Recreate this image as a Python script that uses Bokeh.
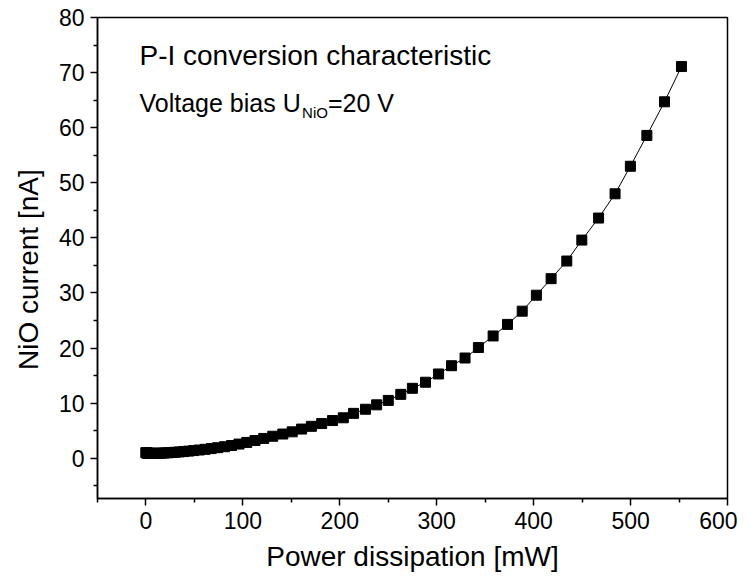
from bokeh.plotting import figure
from bokeh.models import Label, Range1d, FixedTicker
from bokeh.embed import file_html
from bokeh.resources import INLINE

power_mw = [0, 0.1, 0.5, 1.1, 2.0, 3.2, 4.7, 6.4, 8.4, 10.6,
            13.1, 15.9, 19.0, 22.4, 26.1, 30.1, 34.4, 39.0, 44.0, 49.3,
            55.0, 61.0, 67.3, 74.0, 81.0, 88.3, 96.0, 104.0, 112.5,
            121.5, 130.8, 141.2, 150.9, 160.6, 170.7, 181.3, 192.5, 203.6, 214.2,
            226.5, 238.0, 250.0, 262.9, 274.9, 288.4, 301.9, 315.3, 329.2, 343.0,
            358.2, 373.0, 388.2, 402.8, 418.0, 434.2, 449.7, 467.0, 484.0, 499.8,
            516.8, 535.0, 552.5]
current_na = [1.05, 1.02, 0.98, 0.95, 0.93, 0.91, 0.90, 0.89, 0.89, 0.90,
              0.91, 0.93, 0.96, 1.00, 1.04, 1.09, 1.15, 1.22, 1.30, 1.40,
              1.50, 1.62, 1.76, 1.92, 2.10, 2.32, 2.58, 2.88, 3.22,
              3.60, 4.00, 4.40, 4.80, 5.30, 5.80, 6.30, 6.85, 7.35, 8.15,
              8.90, 9.70, 10.5, 11.6, 12.7, 13.8, 15.3, 16.8, 18.2, 20.1,
              22.2, 24.3, 26.7, 29.6, 32.6, 35.8, 39.6, 43.6, 48.0, 53.0,
              58.6, 64.7, 71.1]
x_ticks = [0, 100, 200, 300, 400, 500, 600]
y_ticks = [0, 10, 20, 30, 40, 50, 60, 70, 80]
x_minor = [-50, 50, 150, 250, 350, 450, 550]
y_minor = [-5, 5, 15, 25, 35, 45, 55, 65, 75]

FONT = "Liberation Sans"

p = figure(frame_width=630, frame_height=481,
           min_border_left=97, min_border_top=17, min_border_right=10, min_border_bottom=60,
           x_range=Range1d(-50, 600), y_range=Range1d(-7.3, 80),
           output_backend="svg", toolbar_location=None)
p.grid.visible = False
p.background_fill_color = "white"
p.outline_line_color = "black"
p.outline_line_width = 1.5

p.line(power_mw, current_na, line_color="black", line_width=1)
p.scatter(power_mw, current_na, marker="square", size=10, fill_color="black", line_color="black")

p.xaxis.ticker = FixedTicker(ticks=x_ticks, minor_ticks=x_minor)
p.yaxis.ticker = FixedTicker(ticks=y_ticks, minor_ticks=y_minor)
for ax in (p.xaxis, p.yaxis):
    ax.axis_line_color = "black"
    ax.axis_line_width = 1.5
    ax.major_tick_line_color = "black"
    ax.major_tick_line_width = 1.5
    ax.minor_tick_line_color = "black"
    ax.minor_tick_line_width = 1.5
    ax.major_tick_out = 7
    ax.major_tick_in = 0
    ax.minor_tick_out = 4
    ax.minor_tick_in = 0
    ax.major_label_text_font = FONT
    ax.major_label_text_font_size = "23px"
    ax.major_label_text_color = "black"
    ax.axis_label_text_font = FONT
    ax.axis_label_text_font_size = "28px"
    ax.axis_label_text_font_style = "normal"
    ax.axis_label_text_color = "black"
p.xaxis.axis_label = "Power dissipation [mW]"
# trailing no-break spaces nudge the rotated title slightly downward, as in the reference
p.yaxis.axis_label = "NiO current [nA]\u00a0\u00a0\u00a0"
p.xaxis.major_label_standoff = 6
p.yaxis.major_label_standoff = 6
p.xaxis.axis_label_standoff = 9
p.yaxis.axis_label_standoff = 12

p.add_layout(Label(x=-6.7, y=73.1, text="P-I conversion characteristic",
                   text_font=FONT, text_font_size="28px", text_baseline="middle", text_color="black"))
p.add_layout(Label(x=-6.7, y=64.4, text="Voltage bias U",
                   text_font=FONT, text_font_size="25px", text_baseline="middle", text_color="black"))
p.add_layout(Label(x=161.1, y=62.8, text="NiO",
                   text_font=FONT, text_font_size="15px", text_baseline="middle", text_color="black"))
p.add_layout(Label(x=187.7, y=64.4, text="=20 V",
                   text_font=FONT, text_font_size="25px", text_baseline="middle", text_color="black"))

open("out.html", "w").write(file_html(p, INLINE))
